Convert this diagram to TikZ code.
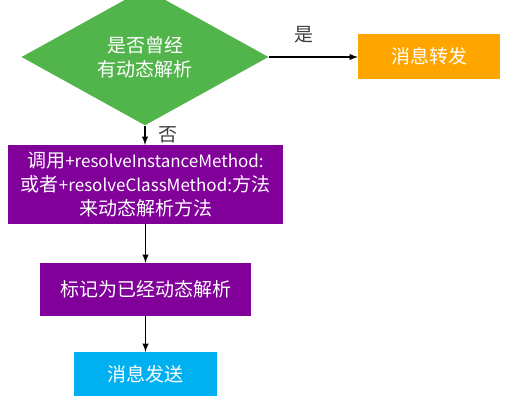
\documentclass[tikz,border=0pt]{standalone}
\usepackage{fontspec}
\setmainfont{Noto Sans CJK SC}
\usetikzlibrary{shapes.geometric}
\definecolor{qgreen}{RGB}{82,181,75}
\definecolor{fwdorange}{RGB}{255,165,0}
\definecolor{callpurple}{RGB}{128,0,153}
\definecolor{sendcyan}{RGB}{0,176,240}
\definecolor{lblgray}{RGB}{60,60,60}
\newcommand{\lat}[1]{{\fontsize{17}{24}\selectfont #1}}
\tikzset{
  decision/.style={diamond, fill=qgreen, text=white, inner sep=0pt, minimum width=247pt, minimum height=101pt, align=center},
  stepbox/.style={rectangle, text=white, inner sep=0pt, align=center},
  arrow/.style={-latex, line width=1.8pt, black},
  lbl/.style={text=lblgray, inner sep=0pt}
}
\begin{document}
\begin{tikzpicture}[x=1pt, y=-1pt, font=\fontsize{19}{24}\selectfont]
  \useasboundingbox (0,0) rectangle (513,404);
  \node[decision] (Q) at (145,57) {是否曾经\\有动态解析};
  \node[stepbox, fill=fwdorange, minimum width=142pt, minimum height=45pt] (Fwd) at (429,56.5) {消息转发};
  \node[stepbox, fill=callpurple, minimum width=275pt, minimum height=79pt] (Call) at (145.5,184.5) {调用\lat{+resolveInstanceMethod:}\\或者\lat{+resolveClassMethod:}方法\\来动态解析方法};
  \node[stepbox, fill=callpurple, minimum width=211pt, minimum height=53pt] (Mark) at (145.5,289.5) {标记为已经动态解析};
  \node[stepbox, fill=sendcyan, minimum width=143pt, minimum height=44pt] (Send) at (145.5,374) {消息发送};

  \draw[arrow] (Q.east) -- node[lbl, above=13pt, pos=0.4] {是} (Q.east -| Fwd.west);
  \draw[arrow] (Q.south) -- node[lbl, right=13pt] {否} (Call.north -| Q.south);
  \draw[arrow] (Call) -- (Mark);
  \draw[arrow] (Mark) -- (Send);
\end{tikzpicture}
\end{document}
